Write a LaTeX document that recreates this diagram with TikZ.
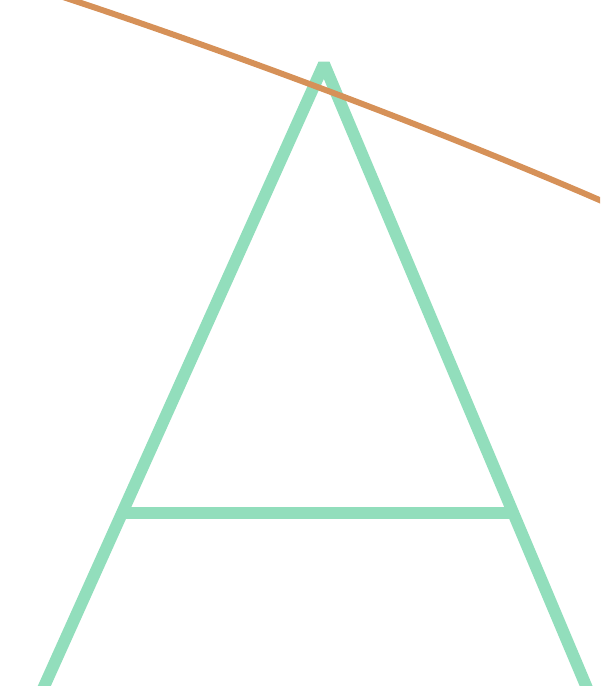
\documentclass[tikz,border=0pt]{standalone}
\usepackage{xcolor}
\usepackage{tikz}
\usetikzlibrary{calc}

\definecolor{mint}{RGB}{146,222,188}
\definecolor{rust}{RGB}{214,145,88}

\begin{document}
\begin{tikzpicture}[
    x=0.01cm, y=-0.01cm,
    stroke/.style={draw=mint, line width=3.4pt, line cap=butt, line join=bevel},
    cutline/.style={draw=rust, line width=1.7pt, line cap=round}
]
    \useasboundingbox (0,0) rectangle (600,686);
    \clip (0,0) rectangle (600,686);

    % Letter outline points
    \coordinate (apex) at (324, 64);
    \coordinate (footL) at (38, 700);
    \coordinate (footR) at (592, 700);
    \coordinate (barL) at ($(apex)!0.706!(footL)$);
    \coordinate (barR) at ($(apex)!0.706!(footR)$);

    % Legs and crossbar
    \draw[stroke] (footL) -- (apex) -- (footR);
    \draw[stroke] (barL) -- (barR);

    % Crossing line
    \coordinate (lineS) at (60, -4);
    \coordinate (lineE) at (604, 202);
    \draw[cutline] (lineS) .. controls (200, 42) and (420, 122) .. (lineE);
\end{tikzpicture}
\end{document}
